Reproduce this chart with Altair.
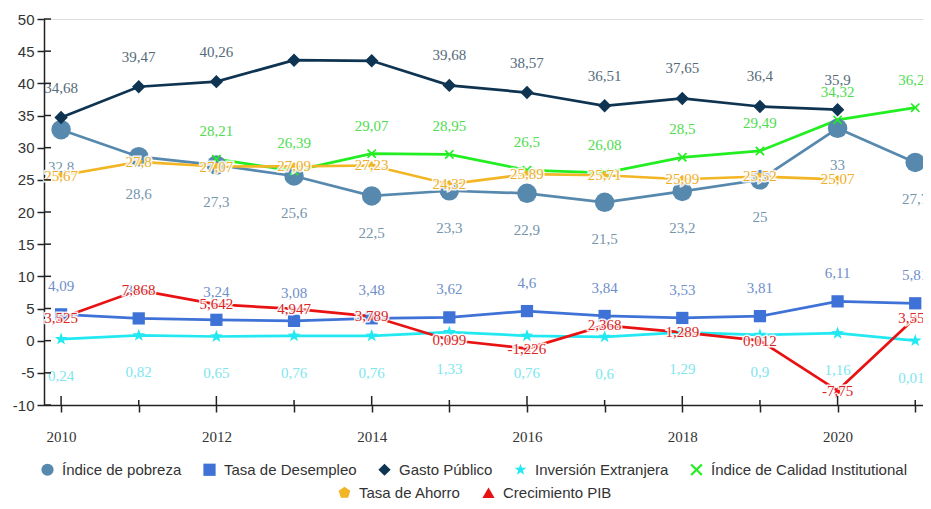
import altair as alt
import pandas as pd

years = list(range(2010, 2022))
pobreza = [32.8, 28.6, 27.3, 25.6, 22.5, 23.3, 22.9, 21.5, 23.2, 25, 33, 27.7]
desempleo = [4.09, 3.46, 3.24, 3.08, 3.48, 3.62, 4.6, 3.84, 3.53, 3.81, 6.11, 5.81]
gasto = [34.68, 39.47, 40.26, 43.6, 43.5, 39.68, 38.57, 36.51, 37.65, 36.4, 35.9, None]
gasto_show = [True, True, True, False, False, True, True, True, True, True, True, False]
inversion = [0.24, 0.82, 0.65, 0.76, 0.76, 1.33, 0.76, 0.6, 1.29, 0.9, 1.16, 0.013]
calidad = [None, None, 28.21, 26.39, 29.07, 28.95, 26.5, 26.08, 28.5, 29.49, 34.32, 36.22]
ahorro = [25.67, 27.8, 27.07, 27.09, 27.23, 24.32, 25.89, 25.71, 25.09, 25.52, 25.07, None]
pib = [3.525, 7.868, 5.642, 4.947, 3.789, 0.099, -1.226, 2.368, 1.289, 0.012, -7.75, 3.552]

y_ticks = list(range(-10, 51, 5))

STAR = "M0,-1L0.235,-0.324L0.951,-0.309L0.380,0.124L0.588,0.809L0,0.4L-0.588,0.809L-0.380,0.124L-0.951,-0.309L-0.235,-0.324Z"
XSHAPE = "M-0.75,-1L0,-0.25L0.75,-1L1,-0.75L0.25,0L1,0.75L0.75,1L0,0.25L-0.75,1L-1,0.75L-0.25,0L-1,-0.75Z"
PENTA = "M0,-1L0.951,-0.309L0.588,0.809L-0.588,0.809L-0.951,-0.309Z"

series = [
    # name, values, line color, label color, shape, size, dy, halo
    ("Índice de pobreza", pobreza, "#5689ad", "#7595ad", "circle", 380, 37, False),
    ("Tasa de Desempleo", desempleo, "#3f72d6", "#6f8fca", "square", 150, -28, False),
    ("Gasto Público", gasto, "#0e3452", "#566b7a", "diamond", 180, -30, False),
    ("Inversión Extranjera", inversion, "#22e8f2", "#7ee6ee", STAR, 180, 37, False),
    ("Índice de Calidad Institutional", calidad, "#22ee22", "#4fdc4f", XSHAPE, 90, -28, False),
    ("Tasa de Ahorro", ahorro, "#f2b524", "#eeae2a", PENTA, 70, 0, True),
    ("Crecimiento PIB", pib, "#e81212", "#d92424", "triangle-up", 60, 0, True),
]

rows = []
for name, vals, col, lcol, shp, sz, dy, halo in series:
    for i, (yr, v) in enumerate(zip(years, vals)):
        if v is None:
            continue
        lab = str(v).replace(".", ",")
        if name == "Gasto Público" and not gasto_show[i]:
            lab = ""
        rows.append({"year": yr, "value": v, "series": name, "label": lab})
df = pd.DataFrame(rows)

W, H = 879, 386
PAD = {"left": 36, "top": 11, "right": 0, "bottom": 96}
xscale = alt.Scale(domain=[2009.78, 2021.1], nice=False, zero=False)
yscale = alt.Scale(domain=[-10, 50], nice=False)

X = alt.X("year:Q", scale=xscale, title=None,
          axis=alt.Axis(values=years, labelExpr="datum.value % 2 == 0 ? datum.label : ''",
                        format="d", grid=False, domainColor="#222", domainWidth=1.5,
                        tickColor="#222", tickWidth=1.5, tickSize=7,
                        labelFont="Liberation Serif", labelFontSize=15, labelColor="#333",
                        labelPadding=17))
Y = alt.Y("value:Q", scale=yscale, title=None,
          axis=alt.Axis(values=y_ticks, grid=False, domainColor="#222", domainWidth=1.5,
                        tickColor="#222", tickWidth=1.5, tickSize=7,
                        labelExpr="'' + datum.value",
                        labelFont="Liberation Sans", labelFontSize=15, labelColor="#333",
                        labelPadding=3))

base = alt.Chart(df)
layers = []

# lines
for name, vals, col, lcol, shp, sz, dy, halo in series:
    layers.append(base.transform_filter(alt.datum.series == name)
                  .mark_line(color=col, strokeWidth=2.7).encode(x=X, y=Y))

legend_common = dict(title=None, orient="none", direction="horizontal",
                     labelFont="Liberation Sans", labelFontSize=15, labelColor="#333",
                     symbolSize=150, symbolStrokeWidth=0, labelOffset=7, columnPadding=20,
                     padding=0, labelLimit=0)

def legend_points(group, lx, ly):
    names = [s[0] for s in group]
    leg = alt.Legend(legendX=lx, legendY=ly, columns=len(names), **legend_common)
    return (base.transform_filter(alt.FieldOneOfPredicate(field="series", oneOf=names))
            .mark_point(filled=True, opacity=1, size=30)
            .encode(x=X, y=Y,
                    color=alt.Color("series:N", scale=alt.Scale(domain=names, range=[s[2] for s in group]), legend=leg),
                    shape=alt.Shape("series:N", scale=alt.Scale(domain=names, range=[s[4] for s in group]), legend=leg)))

layers.append(legend_points(series[:5], -4, 443))
layers.append(legend_points(series[5:], 293, 466))

# visible markers
for name, vals, col, lcol, shp, sz, dy, halo in series:
    layers.append(base.transform_filter(alt.datum.series == name)
                  .mark_point(filled=True, opacity=1, shape=shp, size=sz, color=col)
                  .encode(x=X, y=Y))

# labels
for name, vals, col, lcol, shp, sz, dy, halo in series:
    sub = base.transform_filter(alt.datum.series == name)
    if halo:
        layers.append(sub.mark_text(font="Liberation Serif", fontSize=15, dy=dy, color="white",
                                    stroke="white", strokeWidth=3, strokeOpacity=0.9)
                      .encode(x=X, y=Y, text="label:N"))
    layers.append(sub.mark_text(font="Liberation Serif", fontSize=15, dy=dy, color=lcol)
                  .encode(x=X, y=Y, text="label:N"))

# inner halves of the axis ticks (ticks cross the axis lines)
ytick_df = pd.DataFrame({"value": y_ticks})
layers.append(alt.Chart(ytick_df).mark_rule(color="#222", strokeWidth=1.5)
              .encode(y=Y, x=alt.value(0), x2=alt.value(7)))
xtick_df = pd.DataFrame({"year": years})
layers.append(alt.Chart(xtick_df).transform_filter("datum.year % 2 == 0").mark_rule(color="#222", strokeWidth=1.5)
              .encode(x=X, y=alt.value(H), y2=alt.value(H - 9)))
layers.append(alt.Chart(xtick_df).transform_filter("datum.year % 2 == 1").mark_rule(color="#222", strokeWidth=1.5)
              .encode(x=X, y=alt.value(H), y2=alt.value(H - 5)))

chart = (alt.layer(*layers)
         .resolve_scale(color="independent", shape="independent")
         .properties(width=W, height=H, padding=PAD,
                     autosize=alt.AutoSizeParams(type="none"))
         .configure_view(stroke=None)
         .configure(background="white"))

chart.save("out.html", embed_options={"renderer": "svg", "actions": False})
